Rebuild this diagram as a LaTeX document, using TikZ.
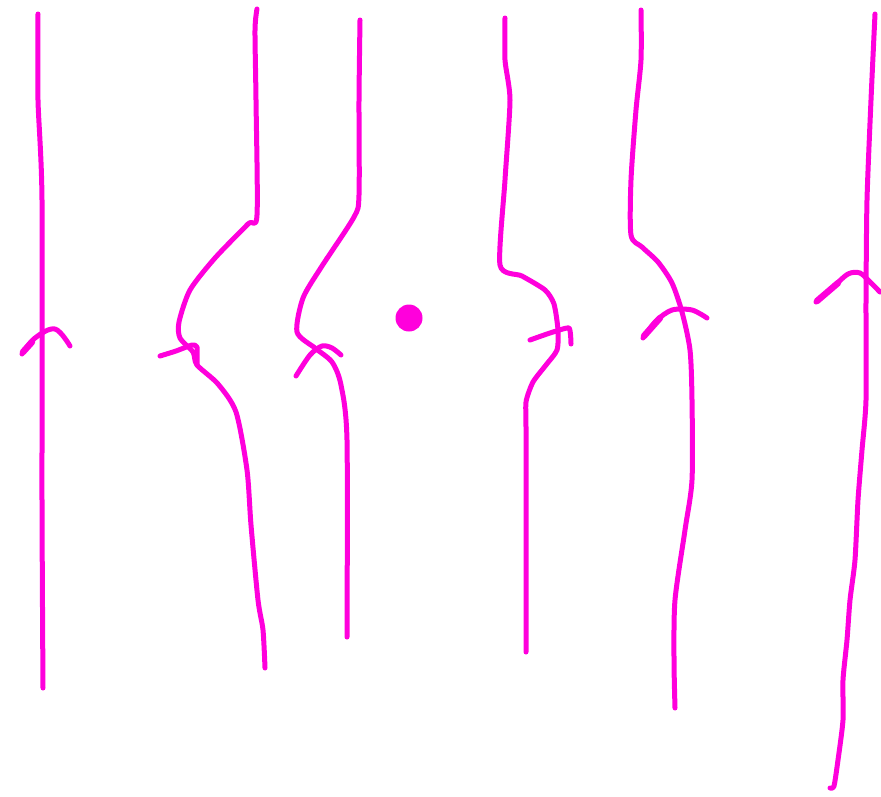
\documentclass[tikz,border=0pt]{standalone}
\definecolor{ink}{RGB}{255,0,220}
\begin{document}
\begin{tikzpicture}[x=1pt,y=-1pt,
  stroke/.style={draw=ink,line width=5pt,line cap=round,line join=round},
  heavy/.style={stroke,line width=6.5pt}]
\useasboundingbox (0,0) rectangle (881,796);
% line 1
\draw[stroke] plot[smooth,tension=0.4] coordinates {(38,14) (38,100) (42,200) (42,500) (43,688)};
\draw[stroke] plot[smooth,tension=0.6] coordinates {(22,354) (35,338) (55,329) (70,346)};
\draw[heavy] (23,352) -- (32,342);
% line 2
\draw[stroke] plot[smooth,tension=0.45] coordinates {(257,9) (255,30) (256,100) (257,215) (248,224) (215,258) (190,290) (179,322) (180,338) (193,352) (197,365) (218,384) (236,412) (247,470) (251,525) (258,600) (263,630) (265,668)};
\draw[stroke] plot[smooth,tension=0.3] coordinates {(160,356) (176,351) (192,345) (197,347) (197,365)};
% line 3
\draw[stroke] plot[smooth,tension=0.45] coordinates {(360,20) (359,100) (359,195) (354,217) (322,266) (303,298) (297,332) (315,348) (332,362) (341,385) (347,440) (347,637)};
\draw[stroke] plot[smooth,tension=0.5] coordinates {(296,376) (310,355) (322,346) (332,348) (341,355)};
% dot
\fill[ink] (409,318) circle (13.5);
% line 4
\draw[stroke] plot[smooth,tension=0.4] coordinates {(505,18) (505,60) (510,100) (505,180) (500,265) (522,276) (545,290) (554,304) (558,330) (557,350) (546,365) (533,382) (526,402) (526,430) (526,652)};
\draw[stroke] plot[smooth,tension=0.3] coordinates {(530,340) (550,333) (569,328) (571,344)};
% line 5
\draw[stroke] plot[smooth,tension=0.45] coordinates {(641,10) (641,60) (636,110) (631,180) (631,235) (642,247) (658,262) (672,283) (682,312) (690,350) (692,400) (692,480) (685,530) (675,600) (674,660) (675,708)};
\draw[stroke] plot[smooth,tension=0.5] coordinates {(643,338) (656,321) (672,310) (692,310) (707,318)};
\draw[heavy] (644,336) -- (660,318);
% line 6
\draw[stroke] plot[smooth,tension=0.4] coordinates {(875,14) (871,100) (867,200) (866,300) (866,400) (862,450) (858,500) (855,560) (850,600) (847,640) (843,680) (843,720) (838,760) (834,786) (830,788)};
\draw[stroke] plot[smooth,tension=0.5] coordinates {(816,302) (832,288) (848,274) (860,273) (870,282) (880,292)};
\draw[heavy] (817,301) -- (838,283);
\end{tikzpicture}
\end{document}
